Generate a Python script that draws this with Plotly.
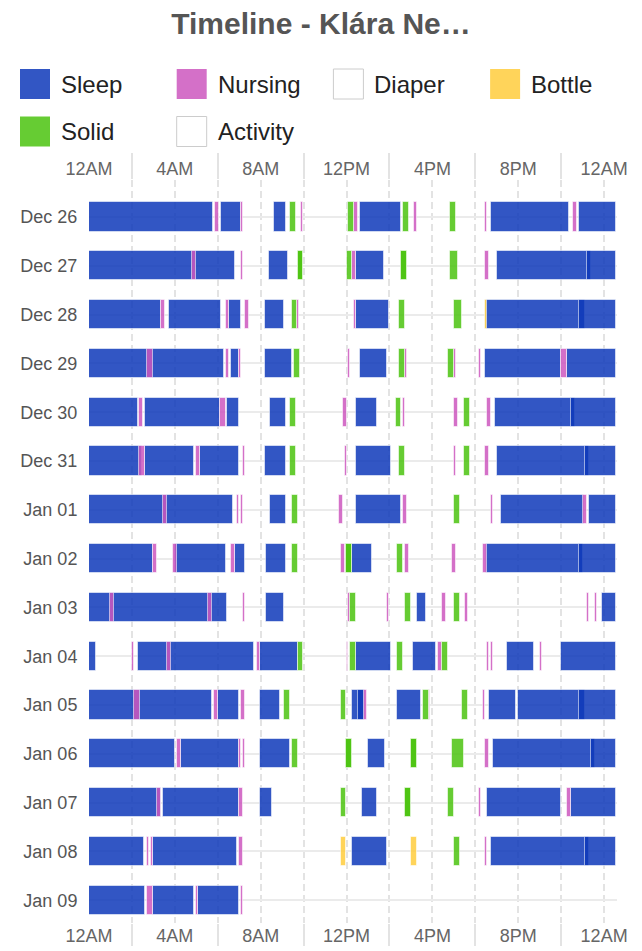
import plotly.graph_objects as go

DAYS = ["Dec 26", "Dec 27", "Dec 28", "Dec 29", "Dec 30", "Dec 31", "Jan 01", "Jan 02",
        "Jan 03", "Jan 04", "Jan 05", "Jan 06", "Jan 07", "Jan 08", "Jan 09"]
X_TICKS = [0, 4, 8, 12, 16, 20, 24]
X_LABELS = ["12AM", "4AM", "8AM", "12PM", "4PM", "8PM", "12AM"]
X_MINOR = [2, 6, 10, 14, 18, 22]
LEGEND_NAMES = ["Sleep", "Nursing", "Diaper", "Bottle", "Solid", "Activity"]

# (day, start hour, end hour)
SLEEP = [
    ("Dec 26", 0.00, 5.80), ("Dec 26", 6.17, 7.09), ("Dec 26", 8.63, 9.18), ("Dec 26", 12.64, 14.54),
    ("Dec 26", 18.72, 22.36), ("Dec 26", 22.82, 24.57),
    ("Dec 27", 0.00, 6.81), ("Dec 27", 8.37, 9.25), ("Dec 27", 12.46, 13.73), ("Dec 27", 19.00, 23.37),
    ("Dec 27", 23.19, 24.57),
    ("Dec 28", 0.00, 3.36), ("Dec 28", 3.72, 6.17), ("Dec 28", 6.53, 7.09), ("Dec 28", 8.18, 9.08),
    ("Dec 28", 12.46, 14.00), ("Dec 28", 18.49, 23.09), ("Dec 28", 22.82, 24.57),
    ("Dec 29", 0.00, 6.27), ("Dec 29", 6.63, 7.01), ("Dec 29", 8.18, 9.44), ("Dec 29", 12.64, 13.89),
    ("Dec 29", 18.46, 22.01), ("Dec 29", 22.29, 24.57),
    ("Dec 30", 0.00, 2.26), ("Dec 30", 2.63, 6.08), ("Dec 30", 6.44, 6.98), ("Dec 30", 8.44, 9.18),
    ("Dec 30", 12.46, 13.44), ("Dec 30", 18.91, 22.63), ("Dec 30", 22.44, 24.57),
    ("Dec 31", 0.00, 2.45), ("Dec 31", 2.63, 4.90), ("Dec 31", 5.18, 6.98), ("Dec 31", 8.18, 9.18),
    ("Dec 31", 12.46, 14.08), ("Dec 31", 19.00, 23.28), ("Dec 31", 23.09, 24.57),
    ("Jan 01", 0.00, 6.72), ("Jan 01", 8.44, 9.18), ("Jan 01", 12.46, 14.54), ("Jan 01", 19.19, 23.05),
    ("Jan 01", 23.28, 24.57),
    ("Jan 02", 0.00, 2.99), ("Jan 02", 4.00, 6.36), ("Jan 02", 6.81, 7.25), ("Jan 02", 8.26, 9.18),
    ("Jan 02", 12.27, 13.17), ("Jan 02", 18.51, 23.00), ("Jan 02", 22.82, 24.57),
    ("Jan 03", 0.00, 6.44), ("Jan 03", 8.26, 9.08), ("Jan 03", 15.29, 15.72), ("Jan 03", 23.92, 24.57),
    ("Jan 04", 0.00, 0.34), ("Jan 04", 2.27, 7.71), ("Jan 04", 7.99, 9.72), ("Jan 04", 12.46, 14.08),
    ("Jan 04", 15.09, 16.18), ("Jan 04", 19.46, 20.73), ("Jan 04", 22.01, 24.57),
    ("Jan 05", 0.00, 5.72), ("Jan 05", 6.00, 7.00), ("Jan 05", 7.99, 8.90), ("Jan 05", 12.27, 12.83),
    ("Jan 05", 12.55, 12.85), ("Jan 05", 14.37, 15.46), ("Jan 05", 18.65, 19.90), ("Jan 05", 19.99, 23.10),
    ("Jan 05", 22.82, 24.57),
    ("Jan 06", 0.00, 4.00), ("Jan 06", 4.28, 7.00), ("Jan 06", 7.99, 9.35), ("Jan 06", 13.00, 13.81),
    ("Jan 06", 18.82, 23.56), ("Jan 06", 23.37, 24.57),
    ("Jan 07", 0.00, 3.36), ("Jan 07", 3.44, 7.00), ("Jan 07", 7.99, 8.54), ("Jan 07", 12.72, 13.44),
    ("Jan 07", 18.55, 22.01), ("Jan 07", 22.47, 24.57),
    ("Jan 08", 0.00, 2.54), ("Jan 08", 2.99, 6.91), ("Jan 08", 12.27, 13.90), ("Jan 08", 18.74, 23.28),
    ("Jan 08", 23.09, 24.57),
    ("Jan 09", 0.00, 2.63), ("Jan 09", 2.99, 4.90), ("Jan 09", 5.09, 7.00),
]

NURSING = [
    ("Dec 26", 5.89, 6.07), ("Dec 26", 7.09, 7.17), ("Dec 26", 9.89, 9.98), ("Dec 26", 12.36, 12.53),
    ("Dec 26", 15.15, 15.27), ("Dec 26", 18.44, 18.55), ("Dec 26", 22.53, 22.74),
    ("Dec 27", 4.81, 4.99), ("Dec 27", 7.09, 7.19), ("Dec 27", 12.25, 12.46), ("Dec 27", 18.44, 18.64),
    ("Dec 28", 3.36, 3.55), ("Dec 28", 6.36, 6.53), ("Dec 28", 7.26, 7.45), ("Dec 28", 9.70, 9.80),
    ("Dec 28", 12.36, 12.46),
    ("Dec 29", 2.71, 2.99), ("Dec 29", 6.36, 6.53), ("Dec 29", 7.01, 7.09), ("Dec 29", 12.08, 12.17),
    ("Dec 29", 14.72, 14.82), ("Dec 29", 17.00, 17.09), ("Dec 29", 18.18, 18.27), ("Dec 29", 22.01, 22.29),
    ("Dec 30", 2.35, 2.53), ("Dec 30", 6.08, 6.36), ("Dec 30", 11.82, 12.01), ("Dec 30", 14.63, 14.73),
    ("Dec 30", 16.99, 17.18), ("Dec 30", 18.55, 18.74),
    ("Dec 31", 2.35, 2.63), ("Dec 31", 4.99, 5.18), ("Dec 31", 7.17, 7.26), ("Dec 31", 11.91, 12.01),
    ("Dec 31", 16.99, 17.09), ("Dec 31", 18.46, 18.65),
    ("Jan 01", 3.44, 3.62), ("Jan 01", 6.89, 6.98), ("Jan 01", 7.08, 7.17), ("Jan 01", 11.63, 11.82),
    ("Jan 01", 14.63, 14.82), ("Jan 01", 18.74, 18.82), ("Jan 01", 23.00, 23.19),
    ("Jan 02", 2.99, 3.17), ("Jan 02", 3.90, 4.09), ("Jan 02", 6.63, 6.81), ("Jan 02", 11.73, 11.91),
    ("Jan 02", 14.73, 14.92), ("Jan 02", 16.90, 17.09), ("Jan 02", 18.37, 18.55),
    ("Jan 03", 0.98, 1.17), ("Jan 03", 5.54, 5.72), ("Jan 03", 7.17, 7.26), ("Jan 03", 12.08, 12.18),
    ("Jan 03", 13.90, 14.00), ("Jan 03", 16.45, 16.64), ("Jan 03", 17.54, 17.64), ("Jan 03", 23.19, 23.28),
    ("Jan 03", 23.56, 23.65),
    ("Jan 04", 1.99, 2.08), ("Jan 04", 3.64, 3.83), ("Jan 04", 7.81, 7.99), ("Jan 04", 12.00, 12.08),
    ("Jan 04", 16.28, 16.46), ("Jan 04", 18.55, 18.65), ("Jan 04", 18.74, 18.83), ("Jan 04", 21.00, 21.10),
    ("Jan 05", 2.08, 2.36), ("Jan 05", 5.82, 6.00), ("Jan 05", 7.09, 7.26), ("Jan 05", 12.83, 12.93),
    ("Jan 05", 15.82, 15.91), ("Jan 05", 18.37, 18.46),
    ("Jan 06", 4.09, 4.28), ("Jan 06", 7.00, 7.09), ("Jan 06", 7.17, 7.26), ("Jan 06", 18.46, 18.65),
    ("Jan 07", 3.17, 3.36), ("Jan 07", 7.00, 7.19), ("Jan 07", 18.18, 18.27), ("Jan 07", 22.29, 22.47),
    ("Jan 08", 2.71, 2.80), ("Jan 08", 2.89, 2.99), ("Jan 08", 7.00, 7.19), ("Jan 08", 18.46, 18.55),
    ("Jan 09", 2.71, 2.99), ("Jan 09", 4.99, 5.09), ("Jan 09", 7.09, 7.19),
]

SOLID = [
    ("Dec 26", 9.35, 9.63), ("Dec 26", 12.07, 12.36), ("Dec 26", 14.63, 14.91), ("Dec 26", 16.81, 17.09),
    ("Dec 27", 9.72, 9.98), ("Dec 27", 9.72, 9.98), ("Dec 27", 12.00, 12.25), ("Dec 27", 14.54, 14.82),
    ("Dec 27", 14.54, 14.82), ("Dec 27", 16.81, 17.17),
    ("Dec 28", 9.46, 9.70), ("Dec 28", 14.45, 14.72), ("Dec 28", 17.00, 17.36),
    ("Dec 29", 9.53, 9.81), ("Dec 29", 14.46, 14.72), ("Dec 29", 16.74, 17.00),
    ("Dec 30", 9.35, 9.63), ("Dec 30", 14.28, 14.54), ("Dec 30", 17.45, 17.73),
    ("Dec 31", 9.35, 9.63), ("Dec 31", 14.45, 14.73), ("Dec 31", 17.45, 17.73),
    ("Jan 01", 9.44, 9.72), ("Jan 01", 16.99, 17.28),
    ("Jan 02", 9.44, 9.72), ("Jan 02", 11.99, 12.27), ("Jan 02", 11.99, 12.27), ("Jan 02", 14.37, 14.63),
    ("Jan 03", 12.18, 12.46), ("Jan 03", 14.73, 15.01), ("Jan 03", 17.00, 17.28),
    ("Jan 04", 9.72, 9.98), ("Jan 04", 12.18, 12.46), ("Jan 04", 14.37, 14.63), ("Jan 04", 16.46, 16.73),
    ("Jan 05", 9.08, 9.35), ("Jan 05", 11.73, 11.99), ("Jan 05", 15.55, 15.82), ("Jan 05", 17.37, 17.64),
    ("Jan 06", 9.44, 9.72), ("Jan 06", 11.99, 12.27), ("Jan 06", 11.99, 12.27), ("Jan 06", 14.99, 15.27),
    ("Jan 06", 14.99, 15.27), ("Jan 06", 16.90, 17.45),
    ("Jan 07", 11.73, 11.99), ("Jan 07", 14.72, 14.99), ("Jan 07", 14.72, 14.99), ("Jan 07", 16.72, 17.00),
    ("Jan 08", 16.99, 17.28),
]

BOTTLE = [("Dec 28", 18.44, 18.55), ("Jan 08", 11.73, 11.99), ("Jan 08", 14.99, 15.27)]

DIAPER = []
ACTIVITY = []

COLORS = {
    "Sleep": "rgba(14,56,186,0.85)",
    "Nursing": "rgba(204,87,190,0.85)",
    "Diaper": "rgba(255,255,255,1)",
    "Bottle": "rgba(255,204,61,0.85)",
    "Solid": "rgba(75,195,15,0.85)",
    "Activity": "rgba(255,255,255,1)",
}

# The page body has an 8px margin: the figure is drawn 8px in from the top-left.
OFF = 8
W, H = 642 - OFF, 951 - OFF
L, R, T, B = 89 - OFF, 617 - OFF, 180 - OFF, 923 - OFF
ROW0, ROW_STEP = 217.0 - OFF, 48.8

FONT = "Liberation Sans, Arial, Helvetica, sans-serif"

fig = go.Figure()


def add_series(name, items):
    if not items:
        return
    fig.add_trace(go.Bar(
        orientation="h",
        y=[d for d, s, e in items],
        base=[s for d, s, e in items],
        x=[e - s for d, s, e in items],
        width=0.6,
        name=name,
        marker=dict(color=COLORS[name], line=dict(color="rgba(255,255,255,0.55)", width=1)),
        showlegend=False,
        hoverinfo="skip",
    ))


add_series("Sleep", SLEEP)
add_series("Diaper", DIAPER)
add_series("Activity", ACTIVITY)
add_series("Nursing", NURSING)
add_series("Solid", SOLID)
add_series("Bottle", BOTTLE)

# invisible anchor so the top axis is drawn
fig.add_trace(go.Scatter(x=[0], y=[DAYS[0]], xaxis="x2", mode="markers",
                         marker=dict(opacity=0), showlegend=False, hoverinfo="skip"))

grid_c = "#e3e3e3"
tick_font = dict(family=FONT, size=18, color="#666")

xr = [0, 24.6]
y_top = (T - ROW0) / ROW_STEP
y_bot = (B - ROW0) / ROW_STEP

fig.update_layout(
    width=W, height=H,
    margin=dict(l=L, r=W - R, t=T, b=H - B, pad=0),
    paper_bgcolor="white", plot_bgcolor="white",
    barmode="overlay",
    bargap=0,
    showlegend=False,
    title=dict(text="<b>Timeline - Klára Ne…</b>", x=(321 - OFF) / W, xref="container",
               xanchor="center", y=1.0, yref="container", yanchor="top",
               pad=dict(t=5, b=0, l=0, r=0),
               font=dict(family=FONT, size=30, color="#555")),
    xaxis=dict(range=xr, tickvals=X_TICKS, ticktext=X_LABELS, tickfont=tick_font,
               showgrid=True, gridcolor=grid_c, gridwidth=1.5, griddash="7px,4px",
               ticks="", zeroline=False, showline=False, automargin=False, fixedrange=True,
               minor=dict(tickvals=X_MINOR, showgrid=True, gridcolor=grid_c, gridwidth=1.5,
                          griddash="7px,4px", ticks="outside", ticklen=22, tickcolor=grid_c,
                          tickwidth=1.5)),
    xaxis2=dict(range=xr, overlaying="x", side="top", matches="x", tickvals=X_TICKS,
                ticktext=X_LABELS, tickfont=tick_font, showgrid=False, ticks="",
                zeroline=False, showline=False, automargin=False,
                minor=dict(tickvals=X_MINOR, showgrid=False, ticks="outside", ticklen=26,
                           tickcolor=grid_c, tickwidth=1.5)),
    yaxis=dict(type="category", categoryorder="array", categoryarray=DAYS,
               range=[y_bot, y_top], showgrid=True, gridcolor="#ebebeb", gridwidth=2,
               ticks="outside", ticklen=7, tickcolor="rgba(0,0,0,0)",
               tickfont=dict(family=FONT, size=18, color="#555"),
               zeroline=False, showline=False, automargin=False),
)


def px_x(px):
    return (px - OFF - L) / (R - L)


def px_y(py):
    return (B - (py - OFF)) / (B - T)


# custom legend (two rows of four columns), positions in page pixels
for i, name in enumerate(LEGEND_NAMES):
    col, row = i % 4, i // 4
    x0 = 20 + 156.7 * col
    yc = 84 + 47.5 * row
    border = "#cccccc" if name in ("Diaper", "Activity") else "rgba(0,0,0,0)"
    fig.add_shape(type="rect", xref="paper", yref="paper",
                  x0=px_x(x0), x1=px_x(x0 + 30), y0=px_y(yc + 15), y1=px_y(yc - 15),
                  fillcolor=COLORS[name], line=dict(color=border, width=1))
    fig.add_annotation(text=name, xref="paper", yref="paper", x=px_x(x0 + 39), y=px_y(yc),
                       xanchor="left", yanchor="middle", showarrow=False,
                       font=dict(family=FONT, size=24, color="#222"))

fig.write_html("out.html")
